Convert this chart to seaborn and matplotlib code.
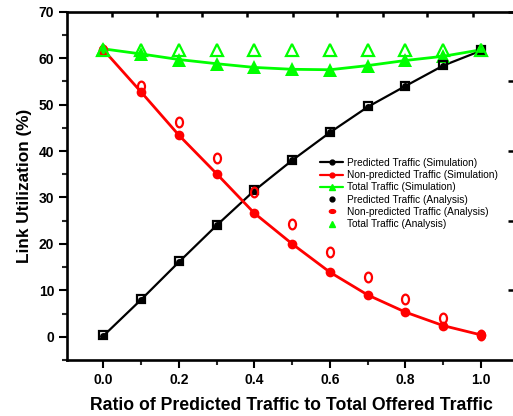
import numpy as np
import pandas as pd
import seaborn as sns
import matplotlib
matplotlib.use("Agg")
import matplotlib.pyplot as plt
from matplotlib.lines import Line2D
from matplotlib.path import Path
from matplotlib.transforms import Affine2D
from matplotlib.ticker import MultipleLocator, FixedLocator, NullFormatter

# Ratio of predicted traffic to total offered traffic
ratio = [0.0, 0.1, 0.2, 0.3, 0.4, 0.5, 0.6, 0.7, 0.8, 0.9, 1.0]

# Link utilization (%) per traffic class
pred_sim = [0.2, 8.0, 16.1, 24.0, 31.5, 38.0, 44.0, 49.5, 54.0, 58.4, 61.6]
pred_ana = [0.3, 8.2, 16.3, 24.0, 31.7, 38.0, 44.1, 49.6, 54.1, 58.6, 61.8]
nonpred_sim = [61.8, 52.7, 43.4, 35.1, 26.6, 20.0, 13.9, 9.0, 5.3, 2.4, 0.4]
nonpred_ana = [61.8, 54.0, 46.2, 38.5, 31.1, 24.3, 18.2, 12.8, 8.1, 4.0, 0.4]
total_sim = [62.0, 60.9, 59.7, 58.8, 58.0, 57.6, 57.5, 58.4, 59.5, 60.4, 61.8]
total_ana = [61.8, 61.8, 61.8, 61.8, 61.8, 61.8, 61.8, 61.8, 61.8, 61.8, 61.8]

x_ticks = [0.0, 0.2, 0.4, 0.6, 0.8, 1.0]

labels = [
    "Predicted Traffic (Simulation)",
    "Non-predicted Traffic (Simulation)",
    "Total Traffic (Simulation)",
    "Predicted Traffic (Analysis)",
    "Non-predicted Traffic (Analysis)",
    "Total Traffic (Analysis)",
]

df = pd.DataFrame({
    "ratio": ratio,
    "pred_sim": pred_sim, "pred_ana": pred_ana,
    "nonpred_sim": nonpred_sim, "nonpred_ana": nonpred_ana,
    "total_sim": total_sim, "total_ana": total_ana,
})

sns.set_theme(style="white")
plt.rcParams["font.family"] = ["Liberation Sans", "DejaVu Sans"]
plt.rcParams["text.color"] = "black"
plt.rcParams["axes.labelcolor"] = "black"

BLACK = "#000000"
RED = "#ff0000"
GREEN = "#00ff00"

fig = plt.figure(figsize=(5.13, 4.16), dpi=100)
W, H = 513, 416
ax = fig.add_axes([67.3 / W, (H - 360) / H, (516 - 67.3) / W, (360 - 11.7) / H])

# open ellipse used for the analysis points
ellipse = Path.unit_circle().transformed(Affine2D().scale(0.72, 1.0))
flat_dash = Path.unit_circle().transformed(Affine2D().scale(1.0, 0.6))

# simulation curves
sns.lineplot(data=df, x="ratio", y="pred_sim", ax=ax, color=BLACK, lw=1.6,
             marker="o", markersize=5, markeredgewidth=0, errorbar=None, zorder=3)
sns.lineplot(data=df, x="ratio", y="nonpred_sim", ax=ax, color=RED, lw=2.0,
             marker="o", markersize=7, markeredgewidth=0, errorbar=None, zorder=3)
sns.lineplot(data=df, x="ratio", y="total_sim", ax=ax, color=GREEN, lw=2.0,
             marker="^", markersize=10, markeredgewidth=0, errorbar=None, zorder=3)

# analysis points
sns.lineplot(data=df, x="ratio", y="pred_ana", ax=ax, color=BLACK, linestyle="",
             marker="s", markersize=5.5, markerfacecolor="none",
             markeredgecolor=BLACK, markeredgewidth=1.6, errorbar=None, zorder=4)
sns.lineplot(data=df, x="ratio", y="nonpred_ana", ax=ax, color=RED, linestyle="",
             marker=ellipse, markersize=7, markerfacecolor="none",
             markeredgecolor=RED, markeredgewidth=1.6, errorbar=None, zorder=4)
sns.lineplot(data=df, x="ratio", y="total_ana", ax=ax, color=GREEN, linestyle="",
             marker="^", markersize=8, markerfacecolor="none",
             markeredgecolor=GREEN, markeredgewidth=1.6, errorbar=None, zorder=4)

ax.set_xlim(-0.0955, 1.0926)
ax.set_ylim(-5, 70)

ax.xaxis.set_major_locator(FixedLocator(x_ticks))
ax.xaxis.set_minor_locator(MultipleLocator(0.1))
ax.yaxis.set_major_locator(MultipleLocator(10))
ax.yaxis.set_minor_locator(MultipleLocator(5))
ax.set_xticklabels([f"{v:.1f}" for v in x_ticks])

for side in ["left", "bottom", "top", "right"]:
    ax.spines[side].set_visible(True)
    ax.spines[side].set_color("black")
    ax.spines[side].set_linewidth(1.9)

ax.tick_params(axis="both", which="major", direction="out", length=5.8, width=1.5,
               pad=3.6, labelsize=10, colors="black", bottom=True, left=True,
               top=False, right=False)
ax.tick_params(axis="both", which="minor", direction="out", length=3.6, width=1.5,
               bottom=True, left=True, top=False, right=False)
for t in ax.get_xticklabels() + ax.get_yticklabels():
    t.set_fontweight("bold")

# upper and right frame ticks
top_ax = ax.secondary_xaxis("top")
top_ax.xaxis.set_major_locator(FixedLocator([0.023, 0.142, 0.261, 0.380, 0.502,
                                             0.618, 0.740, 0.856, 0.978]))
top_ax.xaxis.set_major_formatter(NullFormatter())
top_ax.tick_params(direction="in", length=3.5, width=1.8, colors="black")
top_ax.spines["top"].set_visible(False)

right_ax = ax.secondary_yaxis("right")
right_ax.yaxis.set_major_locator(FixedLocator([10, 25, 40, 55, 70]))
right_ax.yaxis.set_major_formatter(NullFormatter())
right_ax.tick_params(direction="in", length=5.5, width=1.8, colors="black")
right_ax.spines["right"].set_visible(False)

ax.set_xlabel("Ratio of Predicted Traffic to Total Offered Traffic",
              fontsize=12.7, fontweight="bold", labelpad=7, color="black")
ax.set_ylabel("Link Utilization (%)", fontsize=12.4, fontweight="bold",
              labelpad=5, color="black")

handles = [
    Line2D([0], [0], color=BLACK, lw=1.6, marker="o", markersize=3.5),
    Line2D([0], [0], color=RED, lw=1.6, marker="o", markersize=3.5),
    Line2D([0], [0], color=GREEN, lw=1.6, marker="^", markersize=5),
    Line2D([0], [0], color=BLACK, linestyle="", marker="o", markersize=3.5),
    Line2D([0], [0], color=RED, linestyle="", marker=flat_dash, markersize=4.5),
    Line2D([0], [0], color=GREEN, linestyle="", marker="^", markersize=5,
           markeredgecolor=GREEN),
]
leg = fig.legend(handles, labels, loc="upper left",
                 bbox_to_anchor=(320 / W, 1 - 158 / H), bbox_transform=fig.transFigure,
                 frameon=False, fontsize=7.3, handlelength=2.3, handletextpad=0.4,
                 labelspacing=0.22, borderpad=0, borderaxespad=0)
for txt in leg.get_texts():
    txt.set_color("black")

fig.savefig("out.png", dpi=100)
